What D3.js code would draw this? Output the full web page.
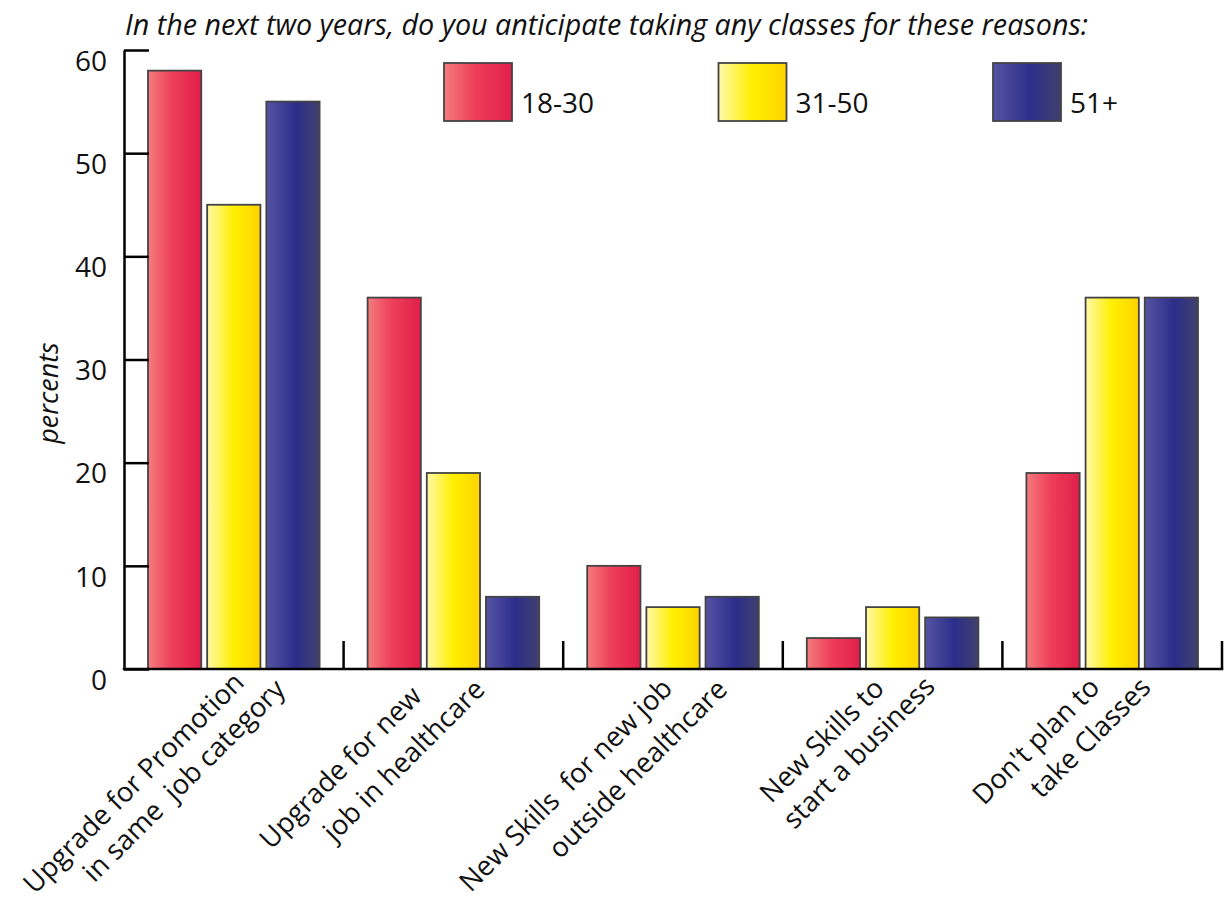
<!DOCTYPE html>
<html>
<head>
<meta charset="utf-8">
<script src="https://cdn.jsdelivr.net/npm/d3@7"></script>
<style>
  html, body { margin: 0; padding: 0; background: #fff; }
  svg { display: block; }
  text { font-family: "Open Sans", "Noto Sans", sans-serif; fill: #111; }
</style>
</head>
<body>
<svg id="chart" width="1225" height="903"></svg>
<script>
// ---- data ----
const title = "In the next two years, do you anticipate taking any classes for these reasons:";
const yAxisTitle = "percents";
const categories = [
  ["Upgrade for Promotion", "in same  job category"],
  ["Upgrade for new", "job in healthcare"],
  ["New Skills  for new job", "outside healthcare"],
  ["New Skills to", "start a business"],
  ["Don't plan to", "take Classes"]
];
const seriesNames = ["18-30", "31-50", "51+"];
const age18to30 = [58, 36, 10, 3, 19];
const age31to50 = [45, 19, 6, 6, 36];
const age51plus = [55, 7, 7, 5, 36];
const yTicks = [0, 10, 20, 30, 40, 50, 60];

const seriesValues = [age18to30, age31to50, age51plus];

// ---- layout ----
const svg = d3.select("#chart");
const plotLeft = 124, plotRight = 1222, plotTop = 50, plotBottom = 669;

// label line anchors (end of each rotated line) relative to category centre
const labelAnchors = [
  [[12, 684], [53, 691]],
  [[-30, 698], [33, 691]],
  [[1, 690], [56, 691]],
  [[-7, 690], [44, 688]],
  [[-11, 689], [40, 689]]
];

const gradientStops = [
  [["0%", "#f47c7d"], ["45%", "#ee3f5a"], ["100%", "#e11f4a"]],
  [["0%", "#fff8a8"], ["50%", "#ffef00"], ["100%", "#ffd400"]],
  [["0%", "#5653a3"], ["55%", "#2b2e8a"], ["100%", "#41406e"]]
];

const defs = svg.append("defs");
gradientStops.forEach((stops, i) => {
  const g = defs.append("linearGradient")
    .attr("id", "grad" + i)
    .attr("x1", "0%").attr("x2", "100%").attr("y1", "0%").attr("y2", "0%");
  stops.forEach(([o, c]) => g.append("stop").attr("offset", o).attr("stop-color", c));
});

const catKeys = categories.map((c, i) => i);
const x0 = d3.scaleBand().domain(catKeys).range([plotLeft, plotRight]).paddingInner(0).paddingOuter(0);
const x1 = d3.scaleBand().domain(d3.range(seriesNames.length))
  .range([24, x0.bandwidth() - 24]).paddingInner(0.1).paddingOuter(0);
const y = d3.scaleLinear().domain([0, 60]).range([plotBottom, plotTop]);

// title
svg.append("text")
  .attr("x", plotLeft + 1).attr("y", 35)
  .style("font-style", "italic").style("font-size", "28.7px")
  .text(title);

// bars
const groups = svg.append("g").selectAll("g")
  .data(catKeys).join("g")
  .attr("transform", d => `translate(${x0(d)},0)`);

groups.selectAll("rect")
  .data(ci => seriesValues.map((vals, si) => ({ si, v: vals[ci] })))
  .join("rect")
  .attr("x", d => x1(d.si))
  .attr("width", x1.bandwidth())
  .attr("y", d => y(d.v))
  .attr("height", d => y(0) - y(d.v))
  .attr("fill", d => `url(#grad${d.si})`)
  .attr("stroke", "#444")
  .attr("stroke-width", 1.8);

// y axis: ticks point inward, labels sit just below each tick
const yAxis = svg.append("g")
  .attr("transform", `translate(${plotLeft},0)`)
  .call(d3.axisLeft(y).tickValues(yTicks).tickSize(-25).tickSizeOuter(0).tickPadding(17));
yAxis.select(".domain").attr("stroke", "#000").attr("stroke-width", 2.5);
yAxis.selectAll(".tick line").attr("stroke", "#000").attr("stroke-width", 2.5);
yAxis.selectAll(".tick text")
  .attr("dy", "0.72em")
  .style("font-size", "28px")
  .style("font-family", "'Open Sans', sans-serif")
  .attr("fill", "#111");

// y axis title
svg.append("text")
  .attr("transform", "translate(58,393) rotate(-90)")
  .attr("text-anchor", "middle")
  .style("font-style", "italic").style("font-size", "27px")
  .text(yAxisTitle);

// x axis baseline with upward separators at the category boundaries
svg.append("line")
  .attr("x1", plotLeft - 1.25).attr("x2", plotRight + 1.25)
  .attr("y1", plotBottom).attr("y2", plotBottom)
  .attr("stroke", "#000").attr("stroke-width", 2.5);
svg.append("g").selectAll("line")
  .data(catKeys)
  .join("line")
  .attr("x1", d => x0(d) + x0.bandwidth()).attr("x2", d => x0(d) + x0.bandwidth())
  .attr("y1", plotBottom).attr("y2", plotBottom - 28)
  .attr("stroke", "#000").attr("stroke-width", 2.5);

// category labels, two rotated lines each
const labelG = svg.append("g");
categories.forEach((lines, ci) => {
  const cx = x0(ci) + x0.bandwidth() / 2;
  lines.forEach((line, li) => {
    const [dx, ly] = labelAnchors[ci][li];
    labelG.append("text")
      .attr("transform", `translate(${cx + dx},${ly}) rotate(-45)`)
      .attr("text-anchor", "end")
      .style("font-size", "27.5px")
      .style("white-space", "pre")
      .attr("xml:space", "preserve")
      .text(line);
  });
});

// legend
const legend = svg.append("g").selectAll("g")
  .data(seriesNames).join("g")
  .attr("transform", (d, i) => `translate(${444 + i * 274.5},63)`);
legend.append("rect")
  .attr("width", 68).attr("height", 58)
  .attr("fill", (d, i) => `url(#grad${i})`)
  .attr("stroke", "#444").attr("stroke-width", 1.8);
legend.append("text")
  .attr("x", 77).attr("y", 50)
  .style("font-size", "28px")
  .text(d => d);
</script>
</body>
</html>
